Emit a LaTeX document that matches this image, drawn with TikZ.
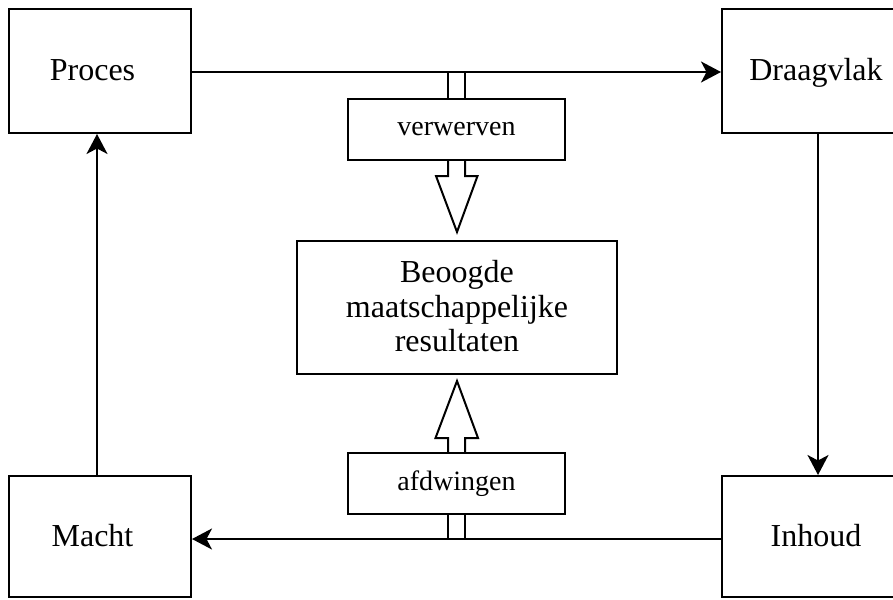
\documentclass[tikz,border=0pt]{standalone}
\usepackage{fontspec}
\setmainfont{Liberation Serif}
\usetikzlibrary{arrows.meta}
\begin{document}
\begin{tikzpicture}[x=1pt,y=-1pt,line width=2pt,
  box/.style={draw,line width=2pt,inner sep=0pt,
    text height=23pt,text depth=3pt,font=\fontsize{32}{34}\selectfont},
  bigbox/.style={draw,line width=2pt,inner sep=0pt},
  bigtext/.style={align=center,inner sep=0pt,font=\fontsize{32}{34.5}\selectfont},
  verbbox/.style={draw,line width=2pt,inner sep=0pt,
    minimum width=217pt,minimum height=61pt,font=\fontsize{28}{30}\selectfont},
  arr/.style={-{Stealth[length=20pt,width=21pt,inset=5.5pt]}},
  hollow/.style={line width=2pt,line join=miter}]
\useasboundingbox (0,0) rectangle (893,599);
\clip (0,0) rectangle (893,599);
\node[box,minimum width=182pt,minimum height=124pt] (Proces) at (100,71) {Proces\kern15pt};
\node[box,minimum width=188pt,minimum height=124pt] (Draagvlak) at (816,71) {Draagvlak};
\node[box,minimum width=182pt,minimum height=121pt] (Macht) at (100,536.5) {Macht\kern15pt};
\node[box,minimum width=188pt,minimum height=121pt] (Inhoud) at (816,536.5) {Inhoud};
\node[bigbox,minimum width=320pt,minimum height=133pt] (Beoogde) at (457,307.5) {};
\node[bigtext] (BeoogdeText) at ([yshift=1pt]Beoogde.center)
  {Beoogde\\maatschappelijke\\resultaten};
\node[verbbox] (verwerven) at (456.5,129.5) {verwerven};
\node[verbbox] (afdwingen) at (456.5,483.5) {afdwingen};
% cycle connectors
\draw[arr] ([yshift=-1pt]Proces.east) -- ([yshift=-1pt]Proces.east -| Draagvlak.west);
\draw[arr] ([xshift=2pt]Draagvlak.south) -- ([xshift=2pt]Inhoud.north);
\draw[arr] ([yshift=-2.5pt]Inhoud.west) -- ([yshift=-2.5pt]Inhoud.west -| Macht.east);
\draw[arr] ([xshift=-3pt]Macht.north) -- ([xshift=-3pt]Proces.south);
% top hollow arrow
\draw[hollow] ([xshift=-8.5pt]verwerven.north) -- ([xshift=-8.5pt,yshift=-1pt]verwerven.north |- Proces.east);
\draw[hollow] ([xshift=8.5pt]verwerven.north) -- ([xshift=8.5pt,yshift=-1pt]verwerven.north |- Proces.east);
\draw[hollow] ([xshift=-8.5pt]verwerven.south) -- ++(0,15) -- ++(-12,0)
  -- ([yshift=8pt]Beoogde.north) -- ([xshift=21pt,yshift=-15pt]verwerven.south)
  -- ++(-12.5,0) -- ([xshift=8.5pt]verwerven.south);
% bottom hollow arrow
\draw[hollow] ([xshift=-8.5pt]afdwingen.south) -- ([xshift=-8.5pt,yshift=-2.5pt]afdwingen.south |- Inhoud.west);
\draw[hollow] ([xshift=8.5pt]afdwingen.south) -- ([xshift=8.5pt,yshift=-2.5pt]afdwingen.south |- Inhoud.west);
\draw[hollow] ([xshift=-8.5pt]afdwingen.north) -- ++(0,-14) -- ++(-12.5,0)
  -- ([yshift=-6pt]Beoogde.south) -- ([xshift=21.5pt,yshift=14pt]afdwingen.north)
  -- ++(-13,0) -- ([xshift=8.5pt]afdwingen.north);
\end{tikzpicture}
\end{document}
